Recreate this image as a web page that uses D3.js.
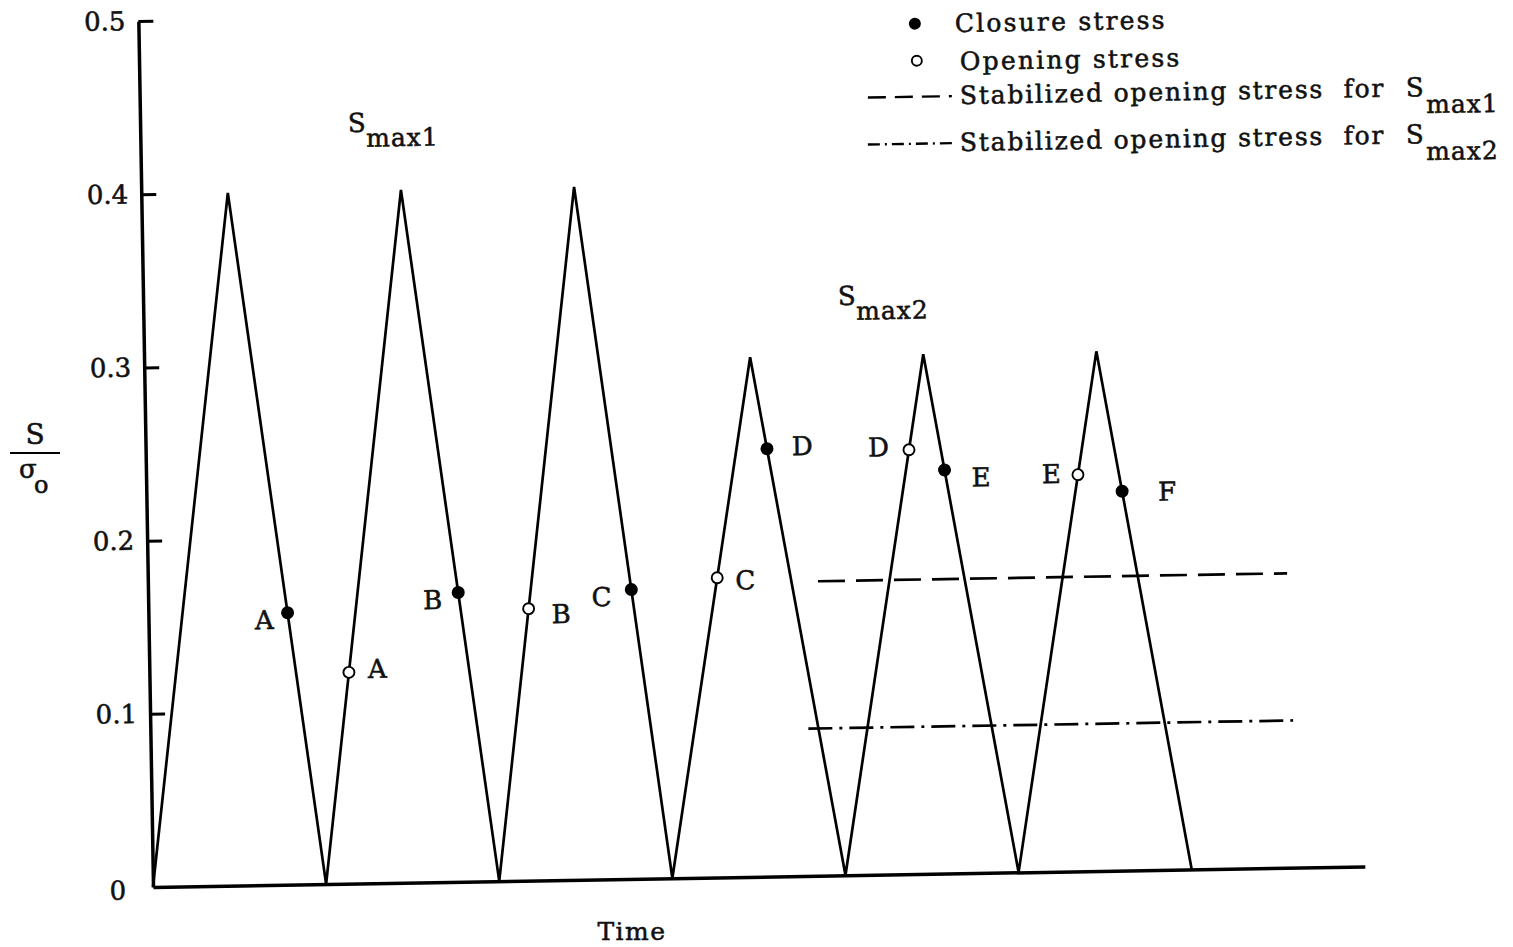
<!DOCTYPE html>
<html>
<head>
<meta charset="utf-8">
<script src="https://cdn.jsdelivr.net/npm/d3@7"></script>
<style>
  body { margin: 0; background: #fff; }
  svg text { font-family: "DejaVu Serif", "Liberation Serif", serif; fill: #111; stroke: #111; stroke-width: 0.55px; }
</style>
</head>
<body>
<svg id="chart" width="1513" height="947"></svg>
<script>
// Constant-amplitude load history: valleys at whole cycles, peaks half way between
const valleyTimes = [0, 1, 2, 3, 4, 5, 6];
const peakTimes = [0.5, 1.5, 2.5, 3.5, 4.5, 5.5];
const peakStress = [0.4, 0.4, 0.4, 0.3, 0.3, 0.3];

const yTicks = [0.1, 0.2, 0.3, 0.4, 0.5];
const yTickLabels = ["0.1", "0.2", "0.3", "0.4", "0.5"];

// Crack closure points (on unloading legs), indexed by peak
const closureLabels = ["A", "B", "C", "D", "E", "F"];
const closurePeak = [0, 1, 2, 3, 4, 5];
const closureStress = [0.157, 0.167, 0.167, 0.247, 0.233, 0.219];

// Crack opening points (on reloading legs), indexed by peak
const openingLabels = ["A", "B", "C", "D", "E"];
const openingPeak = [1, 2, 3, 4, 5];
const openingStress = [0.122, 0.157, 0.173, 0.245, 0.229];

// Stabilized opening stress levels for Smax1 and Smax2
const stabilizedStress = [0.17, 0.085];
const stabilizedStart = [3.87, 3.80];
const stabilizedEnd = [6.58, 6.60];

// ---- layout ----
const origin = { x: 153, y: 887 };
const tilt = -0.97;           // whole figure sits slightly rotated
const svg = d3.select("#chart");

const x = d3.scaleLinear().domain([0, 7]).range([0, 1212]);
const y = d3.scaleLinear().domain([0, 0.5]).range([0, -866]);

const plot = svg.append("g")
  .attr("transform", `translate(${origin.x},${origin.y}) rotate(${tilt})`);

// y axis with inward ticks
const yAxis = d3.axisLeft(y)
  .tickValues(yTicks)
  .tickFormat((d, i) => yTickLabels[i])
  .tickSizeInner(-15)
  .tickSizeOuter(0)
  .tickPadding(13);
const gy = plot.append("g").call(yAxis);
gy.select(".domain").attr("stroke", "#000").attr("stroke-width", 3.5);
gy.selectAll(".tick line").attr("stroke", "#000").attr("stroke-width", 3);
gy.selectAll(".tick text")
  .attr("font-size", 26).attr("fill", "#111")
  .style("font-family", '"DejaVu Serif", serif');

plot.append("text")
  .attr("x", -27).attr("y", 12)
  .attr("text-anchor", "end")
  .attr("font-size", 26)
  .text("0");

// time axis (no ticks)
const xAxis = d3.axisBottom(x).tickValues([]).tickSizeOuter(0);
const gx = plot.append("g").call(xAxis);
gx.select(".domain").attr("stroke", "#000").attr("stroke-width", 3.5);

// load history polyline
const history = [];
valleyTimes.forEach((t, i) => {
  history.push({ t, s: 0 });
  if (i < peakTimes.length) history.push({ t: peakTimes[i], s: peakStress[i] });
});
const line = d3.line().x(d => x(d.t)).y(d => y(d.s));
plot.append("path")
  .datum(history)
  .attr("d", line)
  .attr("fill", "none")
  .attr("stroke", "#000")
  .attr("stroke-width", 2.7)
  .attr("stroke-linejoin", "miter");

// stabilized opening stress lines
const stabDash = ["27,11", "24,7,3,7"];
stabilizedStress.forEach((s, i) => {
  plot.append("line")
    .attr("x1", x(stabilizedStart[i])).attr("x2", x(stabilizedEnd[i]))
    .attr("y1", y(s)).attr("y2", y(s))
    .attr("stroke", "#000")
    .attr("stroke-width", 2.7)
    .attr("stroke-dasharray", stabDash[i]);
});

// place a point on an unloading / reloading leg by its stress
function unloadTime(p, s) {
  const t0 = peakTimes[p], t1 = valleyTimes[p + 1];
  return t0 + (t1 - t0) * (1 - s / peakStress[p]);
}
function reloadTime(p, s) {
  const t0 = valleyTimes[p], t1 = peakTimes[p];
  return t0 + (t1 - t0) * (s / peakStress[p]);
}

const closurePts = closureLabels.map((lab, i) => ({
  lab, t: unloadTime(closurePeak[i], closureStress[i]), s: closureStress[i]
}));
const openingPts = openingLabels.map((lab, i) => ({
  lab, t: reloadTime(openingPeak[i], openingStress[i]), s: openingStress[i]
}));

// letter offsets beside each marker
const closureLabelPos = [
  { dx: -14, dy: 16, a: "end" }, { dx: -16, dy: 16, a: "end" }, { dx: -20, dy: 16, a: "end" },
  { dx: 25, dy: 7, a: "start" }, { dx: 27, dy: 17, a: "start" }, { dx: 36, dy: 10, a: "start" }
];
const openingLabelPos = [
  { dx: 19, dy: 6, a: "start" }, { dx: 23, dy: 15, a: "start" }, { dx: 18, dy: 12, a: "start" },
  { dx: -20, dy: 6, a: "end" }, { dx: -17, dy: 8, a: "end" }
];

plot.selectAll("circle.closure")
  .data(closurePts).enter().append("circle")
  .attr("class", "closure")
  .attr("cx", d => x(d.t)).attr("cy", d => y(d.s))
  .attr("r", 6.5).attr("fill", "#000");

plot.selectAll("circle.opening")
  .data(openingPts).enter().append("circle")
  .attr("class", "opening")
  .attr("cx", d => x(d.t)).attr("cy", d => y(d.s))
  .attr("r", 5.5).attr("fill", "#fff")
  .attr("stroke", "#000").attr("stroke-width", 1.9);

plot.selectAll("text.closure")
  .data(closurePts).enter().append("text")
  .attr("class", "closure")
  .attr("x", (d, i) => x(d.t) + closureLabelPos[i].dx)
  .attr("y", (d, i) => y(d.s) + closureLabelPos[i].dy)
  .attr("text-anchor", (d, i) => closureLabelPos[i].a)
  .attr("font-size", 26)
  .text(d => d.lab);

plot.selectAll("text.opening")
  .data(openingPts).enter().append("text")
  .attr("class", "opening")
  .attr("x", (d, i) => x(d.t) + openingLabelPos[i].dx)
  .attr("y", (d, i) => y(d.s) + openingLabelPos[i].dy)
  .attr("text-anchor", (d, i) => openingLabelPos[i].a)
  .attr("font-size", 26)
  .text(d => d.lab);

// S_max annotations
function smax(gx0, gy0, sub) {
  const g = svg.append("g").attr("transform", `translate(${gx0},${gy0}) rotate(${tilt})`);
  g.append("text").attr("x", 0).attr("y", 0).attr("font-size", 26).text("S");
  g.append("text").attr("x", 18).attr("y", 15).attr("font-size", 25)
    .attr("letter-spacing", 1).text(sub);
  return g;
}
smax(348, 132, "max1");
smax(838, 305, "max2");

// axis titles
svg.append("text")
  .attr("x", 632).attr("y", 940)
  .attr("text-anchor", "middle")
  .attr("font-size", 25).attr("letter-spacing", 1.5)
  .text("Time");

svg.append("text")
  .attr("x", 35).attr("y", 444)
  .attr("text-anchor", "middle")
  .attr("font-size", 28)
  .text("S");
svg.append("line")
  .attr("x1", 10).attr("x2", 60).attr("y1", 453).attr("y2", 453)
  .attr("stroke", "#000").attr("stroke-width", 2);
svg.append("text")
  .attr("x", 19).attr("y", 478)
  .attr("font-size", 26)
  .text("σ");
svg.append("text")
  .attr("x", 34).attr("y", 493)
  .attr("font-size", 24)
  .text("o");

// legend
const legend = [
  { x: 955, y: 32, text: "Closure stress", key: "dot" },
  { x: 960, y: 70, text: "Opening stress", key: "ring" },
  { x: 960, y: 104, text: "Stabilized opening stress  for", key: "dash", sub: "max1" },
  { x: 960, y: 151, text: "Stabilized opening stress  for", key: "dashdot", sub: "max2" }
];
legend.forEach(item => {
  const g = svg.append("g").attr("transform", `translate(${item.x},${item.y}) rotate(${tilt})`);
  g.append("text")
    .attr("font-size", 25)
    .attr("letter-spacing", item.key === "dot" || item.key === "ring" ? 2.2 : 1.8)
    .attr("xml:space", "preserve")
    .style("white-space", "pre")
    .text(item.text);
  if (item.key === "dot") {
    g.append("circle").attr("cx", -40).attr("cy", -9).attr("r", 6).attr("fill", "#000");
  } else if (item.key === "ring") {
    g.append("circle").attr("cx", -43).attr("cy", -10).attr("r", 5)
      .attr("fill", "#fff").attr("stroke", "#000").attr("stroke-width", 1.9);
  } else {
    g.append("line")
      .attr("x1", -92).attr("x2", -8).attr("y1", -8).attr("y2", -8)
      .attr("stroke", "#000").attr("stroke-width", 2.4)
      .attr("stroke-dasharray", item.key === "dash" ? "18,9" : "12,5,2,5");
    g.append("text").attr("x", 446).attr("y", 0).attr("font-size", 26).text("S");
    g.append("text").attr("x", 466).attr("y", 17).attr("font-size", 25)
      .attr("letter-spacing", 1).text(item.sub);
  }
});
</script>
</body>
</html>
